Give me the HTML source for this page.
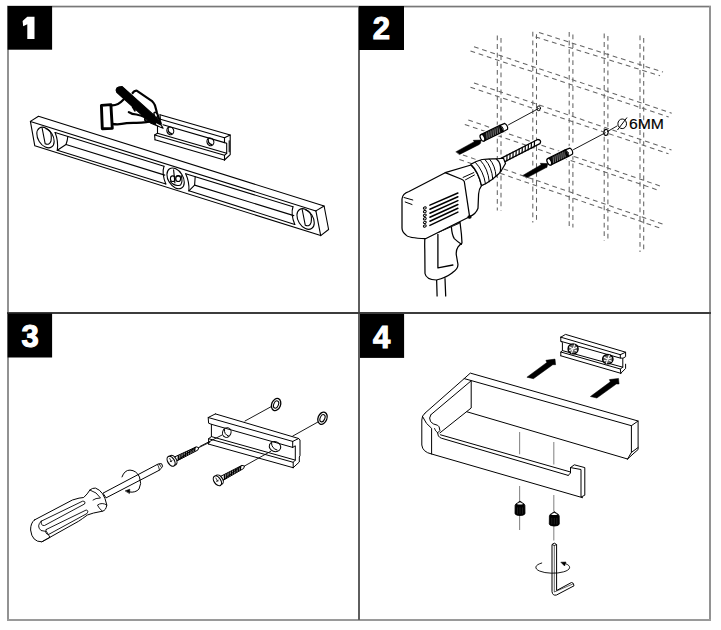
<!DOCTYPE html>
<html><head><meta charset="utf-8">
<style>
html,body{margin:0;padding:0;background:#fff;}
body{width:721px;height:630px;overflow:hidden;position:relative;font-family:"Liberation Sans",sans-serif;}
svg{position:absolute;left:0;top:0;}
</style></head><body>
<svg width="721" height="630" viewBox="0 0 721 630">
<g stroke="none">
<rect x="7" y="5.7" width="704" height="1.7" fill="#787878"/>
<rect x="7" y="6" width="2" height="615" fill="#929292"/>
<rect x="709" y="6" width="2" height="615" fill="#929292"/>
<rect x="7" y="619" width="704" height="2" fill="#9a9a9a"/>
<rect x="358" y="6" width="2" height="614" fill="#5e5e5e"/>
<rect x="7" y="312" width="704" height="2" fill="#3c3c3c"/>
</g>
<g fill="#000"><rect x="7.6" y="6" width="44.5" height="43.7"/><rect x="359" y="6" width="45" height="44"/><rect x="7.6" y="313.5" width="44.5" height="44"/><rect x="360" y="314" width="44.1" height="43.9"/></g>
<path d="M27.3,16.8 L34.5,16.8 L34.5,39.1 L27.3,39.1 L27.3,24.3 L23.2,26.3 L22.6,20.9 Z" fill="#fff"/>
<g fill="#fff" stroke="#fff" stroke-width="1.1" font-family="Liberation Sans" font-weight="bold" font-size="31" text-anchor="middle">
<text x="381.4" y="38.8">2</text><text x="30" y="346.6">3</text><text x="381.5" y="347.7">4</text></g>
<!-- p1.py -->
<g fill="none" stroke="#000" stroke-width="1.1" stroke-linejoin="round" stroke-linecap="round">
<polygon points="30.4,121.4 38.5,116.3 324.1,206 328.6,229.5 320.7,235.6 34.8,145.8" />
<line x1="30.4" y1="121.4" x2="315.9" y2="210.9" />
<polyline points="315.9,210.9 324.1,206" />
<line x1="315.9" y1="210.9" x2="320.7" y2="235.6" />
<line x1="55.1" y1="132.5" x2="164" y2="166.3" />
<line x1="66" y1="144.5" x2="164.8" y2="175.1" />
<line x1="57.3" y1="150.3" x2="165.8" y2="184" />
<path d="M55.1,132.5 Q58.5,141 57.3,150.3" />
<path d="M67.8,136.6 Q67.5,140.5 66,144.5 L57.3,150.3" />
<path d="M164,166.3 Q161.5,173.5 165.8,184" />
<line x1="185.7" y1="173.7" x2="293" y2="206.7" />
<line x1="194.6" y1="185.1" x2="293.8" y2="215.6" />
<line x1="188.9" y1="190.8" x2="294.8" y2="224.5" />
<path d="M185.7,173.7 Q189.5,182 188.9,190.8" />
<path d="M195.2,176.8 L194.6,185.1 L188.9,190.8" />
<path d="M293,206.7 Q290.5,213.9 294.8,224.5" />
<ellipse cx="45.5" cy="137.5" rx="7.4" ry="11.3" transform="rotate(-32 45.5 137.5)" />
<ellipse cx="175.6" cy="178.4" rx="7.4" ry="11.3" transform="rotate(-32 175.6 178.4)" />
<ellipse cx="305.6" cy="219" rx="7.4" ry="11.3" transform="rotate(-32 305.6 219)" />
<path d="M42.1,128 L45.2,143.8 Q49.5,145.5 51,141 Q52,134.5 50,131.5 Q46.5,128.2 45.8,128.7" />
<path d="M302.2,209.5 L305.3,225.3 Q309.6,227 311.1,222.5 Q312.1,216 310.1,213 Q306.6,209.7 305.9,210.2" />
<path d="M173.6,169.9 L174.9,182.9" />
<path d="M170.1,181.4 Q174.6,186.9 180.6,184.9 Q183.1,181.4 181.1,175.4" />
<ellipse cx="172.8" cy="178.7" rx="2.4" ry="2.8" transform="rotate(0 172.8 178.7)" />
<ellipse cx="178.2" cy="178.7" rx="2.4" ry="2.8" transform="rotate(0 178.2 178.7)" />
<path d="M176.1,176.4 Q178.1,174.9 180.1,176.4" />
<line x1="160" y1="114.7" x2="230.2" y2="135" />
<line x1="160.4" y1="119.2" x2="224.5" y2="137.8" />
<line x1="163" y1="124.7" x2="224.5" y2="142.6" />
<line x1="157.5" y1="133.2" x2="226.7" y2="153.3" />
<line x1="154.6" y1="135" x2="224.5" y2="155.3" />
<line x1="155" y1="139.8" x2="224.5" y2="160" />
<polyline points="160.4,119.2 160,114.7" />
<polyline points="157.5,123.6 157.5,133.2 154.6,135 155,139.8" />
<polyline points="224.5,137.8 230.2,135 230.2,154.6 224.5,160" />
<polyline points="224.5,137.8 224.5,142.6 226.7,143.2 226.7,153.3 224.5,155.3 224.5,160" />
<polyline points="229.2,140.7 229.2,151.7" />
<ellipse cx="170.3" cy="130.8" rx="3.4" ry="3.9" transform="rotate(-20 170.3 130.8)" />
<path d="M168.3,128.5 Q167.5,132.5 171.5,133.6" />
<ellipse cx="210.4" cy="141.8" rx="3.4" ry="3.9" transform="rotate(-20 210.4 141.8)" />
<path d="M208.4,139.5 Q207.7,143.5 211.7,144.6" />
</g>
<g fill="none" stroke="#000" stroke-width="2.2" stroke-linejoin="round" stroke-linecap="round">
<polygon points="101.4,105.4 110.9,104.6 112.3,128.4 102.3,128.8" stroke-width="2.9"/>
<path d="M112.1,105.4 Q118,105.5 123.6,99.5" />
<path d="M132.6,93 Q134.5,90.3 137,90.8 L151.7,100.8 Q154,103 155,105.5 L157,113 L160.8,123.6" />
<path d="M128.8,112.2 Q132,114.5 136.4,114.5 Q141,115.5 144.5,117" />
<path d="M146,116.5 Q142.8,120.5 147.9,121.8 Q150.5,121.8 152,119.5" stroke-width="1.9"/>
<path d="M112.3,123.8 Q118,125 126.7,123.2 Q132,122.6 136.4,122.9 Q142,122.8 146.3,122.1 L152.4,120.8" />
<path d="M132.6,106.9 L134.9,110.7" stroke-width="1.8"/>
</g>
<path d="M116.8,92.4 Q114.5,86.5 122.2,86.6 L156.5,117.4 L163.1,128.2 L151,123.2 Z" fill="#000" stroke="#000" stroke-width="1.2" stroke-linejoin="round"/>
<path d="M156.5,124 L160.8,126.3" stroke="#fff" stroke-width="1.2" stroke-linecap="round"/>
<ellipse cx="155.8" cy="114.8" rx="1.5" ry="2.7" transform="rotate(-25 155.8 114.8)" fill="#fff" stroke="#000" stroke-width="1.4"/>
<!-- p2.py -->
<g fill="none" stroke="#646464" stroke-width="1.05" stroke-dasharray="4.8 3.8">
<line x1="497.3" y1="35.5" x2="497.3" y2="210.5" />
<line x1="501" y1="38" x2="501" y2="210.5" />
<line x1="532.8" y1="31.8" x2="532.8" y2="222.5" />
<line x1="536.5" y1="34.3" x2="536.5" y2="222.5" />
<line x1="569.2" y1="32" x2="569.2" y2="227.5" />
<line x1="572.9" y1="34.5" x2="572.9" y2="227.5" />
<line x1="604.2" y1="33.5" x2="604.2" y2="240.5" />
<line x1="607.9" y1="36" x2="607.9" y2="240.5" />
<line x1="640" y1="35.5" x2="640" y2="252" />
<line x1="643.7" y1="38" x2="643.7" y2="252" />
<line x1="539" y1="32.5" x2="663" y2="72" />
<line x1="535.5" y1="36.9" x2="660" y2="75.8" />
<line x1="474" y1="46.7" x2="671.7" y2="113.2" />
<line x1="470.5" y1="51.1" x2="668.7" y2="117" />
<line x1="474" y1="82.9" x2="671.5" y2="150" />
<line x1="470.5" y1="87.3" x2="668.5" y2="153.8" />
<line x1="468.3" y1="120" x2="663" y2="187" />
<line x1="464.8" y1="124.4" x2="660" y2="190.8" />
<line x1="462.9" y1="155" x2="662.5" y2="224" />
<line x1="459.4" y1="159.4" x2="659.5" y2="227.8" />
</g>
<g stroke-linecap="round" stroke-linejoin="round">
<ellipse cx="538.7" cy="108.3" rx="1.7" ry="2.4" transform="rotate(10 538.7 108.3)" fill="#fff" stroke="#000" stroke-width="0.9"/>
<ellipse cx="606" cy="132.4" rx="2.1" ry="3" transform="rotate(10 606 132.4)" fill="#fff" stroke="#000" stroke-width="1.1"/>
<line x1="607.5" y1="131.5" x2="617" y2="126" stroke="#000" stroke-width="0.9"/>
<line x1="481.6" y1="138.2" x2="508.4" y2="125.2" stroke="#fff" stroke-width="10.7"/>
<path d="M503,131.8 L507.6,129.2 Q508.2,125.3 504.8,123.4 L499.9,125.4 Z" fill="#fff" stroke="#000" stroke-width="1.2"/>
<polygon points="484.1,141 503,131.8 499.9,125.4 480.9,134.6" fill="#111" stroke="#000" stroke-width="1.2"/>
<line x1="487.1" y1="138.3" x2="486.7" y2="132.9" stroke="#bbb" stroke-width="0.6"/>
<line x1="489.2" y1="137.3" x2="488.8" y2="131.9" stroke="#bbb" stroke-width="0.6"/>
<line x1="491.3" y1="136.3" x2="490.9" y2="130.9" stroke="#bbb" stroke-width="0.6"/>
<line x1="493.4" y1="135.3" x2="493" y2="129.9" stroke="#bbb" stroke-width="0.6"/>
<line x1="495.4" y1="134.3" x2="495" y2="128.9" stroke="#bbb" stroke-width="0.6"/>
<line x1="497.5" y1="133.3" x2="497.1" y2="127.9" stroke="#bbb" stroke-width="0.6"/>
<line x1="499.6" y1="132.3" x2="499.2" y2="126.9" stroke="#bbb" stroke-width="0.6"/>
<ellipse cx="482.5" cy="137.8" rx="2" ry="3.6" transform="rotate(-25.9 482.5 137.8)" fill="#fff" stroke="#000" stroke-width="1.3"/>
<ellipse cx="501.5" cy="128.6" rx="1.4" ry="3.4" transform="rotate(-25.9 501.5 128.6)" fill="none" stroke="#000" stroke-width="0.8"/>
<line x1="548.4" y1="162.2" x2="573.4" y2="149.9" stroke="#fff" stroke-width="10.7"/>
<path d="M568.4,156.4 L572.6,153.9 Q573.2,150 569.8,148.1 L565.2,149.9 Z" fill="#fff" stroke="#000" stroke-width="1.2"/>
<polygon points="550.9,165 568.4,156.4 565.2,149.9 547.7,158.6" fill="#111" stroke="#000" stroke-width="1.2"/>
<line x1="553.6" y1="162.5" x2="553.2" y2="157.1" stroke="#bbb" stroke-width="0.6"/>
<line x1="555.5" y1="161.5" x2="555.1" y2="156.1" stroke="#bbb" stroke-width="0.6"/>
<line x1="557.5" y1="160.6" x2="557" y2="155.2" stroke="#bbb" stroke-width="0.6"/>
<line x1="559.4" y1="159.6" x2="558.9" y2="154.2" stroke="#bbb" stroke-width="0.6"/>
<line x1="561.3" y1="158.7" x2="560.9" y2="153.3" stroke="#bbb" stroke-width="0.6"/>
<line x1="563.2" y1="157.8" x2="562.8" y2="152.3" stroke="#bbb" stroke-width="0.6"/>
<line x1="565.1" y1="156.8" x2="564.7" y2="151.4" stroke="#bbb" stroke-width="0.6"/>
<ellipse cx="549.3" cy="161.8" rx="2" ry="3.6" transform="rotate(-26.3 549.3 161.8)" fill="#fff" stroke="#000" stroke-width="1.3"/>
<ellipse cx="566.8" cy="153.2" rx="1.4" ry="3.4" transform="rotate(-26.3 566.8 153.2)" fill="none" stroke="#000" stroke-width="0.8"/>
<line x1="508.5" y1="124.8" x2="538.5" y2="108.6" stroke="#000" stroke-width="0.9"/>
<line x1="573.5" y1="149.6" x2="605.3" y2="132.8" stroke="#000" stroke-width="0.9"/>
<polygon points="456.1,151.7 474.2,141.7 473.3,140.3 481.1,140 480.6,143.3 478.9,144.7 459.7,154.4" fill="#000" stroke="#000" stroke-width="0.5"/>
<polygon points="523.1,175.3 541.1,164.7 540.3,163.3 547.8,163.6 546.9,167.5 545.8,167.8 526.9,177.8" fill="#000" stroke="#000" stroke-width="0.5"/>
</g>
<ellipse cx="622.2" cy="123.8" rx="4.3" ry="4.8" transform="rotate(0 622.2 123.8)" fill="none" stroke="#000" stroke-width="1"/>
<line x1="617.5" y1="130" x2="627" y2="117.5" stroke="#000" stroke-width="1"/>
<text x="629" y="128.8" font-family="Liberation Sans" font-size="14" fill="#000" stroke="#000" stroke-width="0.15" textLength="35" lengthAdjust="spacingAndGlyphs">6MM</text>
<!-- p2b.py -->
<g fill="#fff" stroke="#000" stroke-width="1.25" stroke-linejoin="round" stroke-linecap="round">
<path d="M436.6,279 L437.1,296 M445,278.6 L445.7,296" fill="none"/>
<path d="M425,236 Q424.5,242 424.8,250 L425,273.5 Q426,279.5 436.4,280 Q446,277.5 452.1,272.9 Q458.5,269 457.9,264 Q457,259 456.5,256 Q455.5,251 457.9,247.1 Q460,244.5 462,243 L461.4,234 L460,222 Z" />
<path d="M437.9,234.3 L437.9,267.9 L452.9,265" fill="none" stroke-width="1.3"/>
<path d="M451.4,227.1 Q452,235 454.3,238.6 Q458,242 461.4,244.3" fill="none"/>
<path d="M438,232.5 L459.5,223.2" fill="none" stroke-width="0.9"/>
<path d="M503.6,162.3 L539.9,143.7 Q541.9,140 537.7,139.5 L501.4,158.1 Z" fill="#fff" stroke-width="1.3"/>
<path d="M506.8,160.7 Q507.1,157.8 506.9,155.2" fill="none" stroke-width="1.2"/>
<path d="M509.8,159.1 Q510.2,156.3 510,153.7" fill="none" stroke-width="1.2"/>
<path d="M512.9,157.6 Q513.2,154.7 513,152.1" fill="none" stroke-width="1.2"/>
<path d="M515.9,156 Q516.3,153.1 516.1,150.6" fill="none" stroke-width="1.2"/>
<path d="M519,154.4 Q519.3,151.6 519.1,149" fill="none" stroke-width="1.2"/>
<path d="M522,152.9 Q522.4,150 522.2,147.4" fill="none" stroke-width="1.2"/>
<path d="M525.1,151.3 Q525.4,148.5 525.2,145.9" fill="none" stroke-width="1.2"/>
<path d="M528.1,149.8 Q528.5,146.9 528.3,144.3" fill="none" stroke-width="1.2"/>
<path d="M531.2,148.2 Q531.5,145.3 531.3,142.7" fill="none" stroke-width="1.2"/>
<path d="M534.2,146.6 Q534.6,143.8 534.4,141.2" fill="none" stroke-width="1.2"/>
<path d="M402,199 Q402.5,193.5 409,191.5 L445.2,172.7 L471,165 Q478.5,172 481.5,185.7 Q479,189 478.6,194 L478,208.3 Q476,214 469.6,216.7 L425.5,238.7 Q408,238 406,235 Q402,232 402,228 Z" />
<path d="M445.2,172.7 L461,179 Q463.5,180 464.3,181.5 L469.6,216.7" fill="none"/>
<path d="M463.1,177.4 L473.8,172.6 M465.5,179.8 L474.4,175" fill="none" stroke-width="1"/>
<path d="M496,159 L503.5,158.2 L505.5,163.5 L500.5,172 Z" />
<path d="M470.8,164.3 Q476,161 482.1,159.5 Q490,158.5 496.4,158.9 Q501.5,163 500.5,171 Q499.5,173 498.8,173.8 Q494,178 491.7,179.8 Q486,184 481.5,185.7 Q478.5,172 470.8,164.3 Z" />
<path d="M475.5,162.5 Q483.5,171 485.5,183.8 M480.5,160.5 Q488,168.5 489.3,181.8 M485,159.6 Q492,167 492.8,179.3 M489.5,159 Q495.5,166 496,176.5" fill="none" stroke-width="1"/>
<path d="M404,197.5 L412.8,200 M405.2,202 L412,204.5" fill="none" stroke-width="1"/>
<line x1="429.9" y1="205.1" x2="457.9" y2="193" stroke-width="1.5"/>
<line x1="429.9" y1="209.2" x2="457.9" y2="196.8" stroke-width="1.5"/>
<line x1="429.9" y1="213.2" x2="457.9" y2="200.6" stroke-width="1.5"/>
<line x1="429.9" y1="217.3" x2="457.9" y2="204.5" stroke-width="1.5"/>
<line x1="429.9" y1="221.3" x2="457.9" y2="208.3" stroke-width="1.5"/>
<line x1="429.9" y1="225.4" x2="457.9" y2="212.1" stroke-width="1.5"/>
<ellipse cx="424.8" cy="208" rx="1.5" ry="1.1" transform="rotate(-20 424.8 208)" fill="none" stroke-width="1"/>
<ellipse cx="424.8" cy="211.6" rx="1.5" ry="1.1" transform="rotate(-20 424.8 211.6)" fill="none" stroke-width="1"/>
<ellipse cx="424.8" cy="215.2" rx="1.5" ry="1.1" transform="rotate(-20 424.8 215.2)" fill="none" stroke-width="1"/>
<ellipse cx="424.8" cy="218.8" rx="1.5" ry="1.1" transform="rotate(-20 424.8 218.8)" fill="none" stroke-width="1"/>
<ellipse cx="424.8" cy="222.4" rx="1.5" ry="1.1" transform="rotate(-20 424.8 222.4)" fill="none" stroke-width="1"/>
<ellipse cx="424.8" cy="226" rx="1.5" ry="1.1" transform="rotate(-20 424.8 226)" fill="none" stroke-width="1"/>
<ellipse cx="469.5" cy="217" rx="1.5" ry="1.2" transform="rotate(0 469.5 217)" fill="#000"/>
</g>
<!-- p3.py -->
<g fill="none" stroke="#000" stroke-width="1" stroke-linejoin="round" stroke-linecap="round">
<line x1="245" y1="421" x2="270.7" y2="406.9" stroke-width="0.9"/>
<line x1="292.7" y1="436.1" x2="318.3" y2="421.8" stroke-width="0.9"/>
<line x1="200" y1="446.4" x2="222.1" y2="435" stroke-width="0.9"/>
<line x1="244.5" y1="466" x2="270.9" y2="451.2" stroke-width="0.9"/>
<line x1="198.8" y1="447.6" x2="210" y2="442.1" stroke-width="0.9"/>
<ellipse cx="276.1" cy="404.5" rx="4.4" ry="6.3" transform="rotate(22 276.1 404.5)" fill="#fff" stroke-width="1.3"/>
<ellipse cx="276.1" cy="404.5" rx="2.3" ry="3.8" transform="rotate(22 276.1 404.5)" stroke-width="1.1"/>
<ellipse cx="322.5" cy="418.2" rx="4.4" ry="6.3" transform="rotate(22 322.5 418.2)" fill="#fff" stroke-width="1.3"/>
<ellipse cx="322.5" cy="418.2" rx="2.3" ry="3.8" transform="rotate(22 322.5 418.2)" stroke-width="1.1"/>
<polyline points="215.4,413.9 298.7,438.5 300,440 300,455.7 299.3,457 299.3,462 293.2,467.7" />
<polyline points="215.4,413.9 208.2,417.5 208.6,423.2 211.4,424.3 211.4,436.6 208.6,438.7 208.6,444.1" />
<line x1="208.2" y1="417.5" x2="292.7" y2="441.4" />
<polyline points="292.7,441.4 298.7,438.5" />
<polyline points="292.7,441.4 292.7,447.4" />
<line x1="211.4" y1="424.3" x2="292.7" y2="447.4" />
<polyline points="292.7,447.4 295.3,445.8 295.3,460.1 293.2,462.3 293.2,467.7" />
<line x1="211.4" y1="436.6" x2="295.3" y2="460.1" />
<line x1="208.6" y1="438.7" x2="293.2" y2="462.3" />
<line x1="208.6" y1="444.1" x2="293.2" y2="467.7" />
<ellipse cx="226.8" cy="432.5" rx="4.2" ry="4.9" transform="rotate(20 226.8 432.5)" />
<path d="M224.5,429.5 Q223.8,434.5 228.5,436" />
<ellipse cx="275" cy="446.6" rx="5.8" ry="5" transform="rotate(20 275 446.6)" />
<path d="M271.5,443 Q271.5,448.5 277,450" />
</g>
<path d="M176.2,461.3 L197.8,450.1 L198.8,447.6 L196.2,446.9 Z M174.1,457.2 L196.2,446.9" fill="#fff" stroke="#000" stroke-width="1"/>
<line x1="178.3" y1="460.1" x2="178.3" y2="455.2" stroke="#000" stroke-width="1.35"/>
<line x1="180.1" y1="459.2" x2="180.2" y2="454.4" stroke="#000" stroke-width="1.35"/>
<line x1="181.9" y1="458.2" x2="182" y2="453.5" stroke="#000" stroke-width="1.35"/>
<line x1="183.7" y1="457.3" x2="183.9" y2="452.7" stroke="#000" stroke-width="1.35"/>
<line x1="185.5" y1="456.3" x2="185.7" y2="451.9" stroke="#000" stroke-width="1.35"/>
<line x1="187.3" y1="455.3" x2="187.6" y2="451" stroke="#000" stroke-width="1.35"/>
<line x1="189.1" y1="454.4" x2="189.5" y2="450.2" stroke="#000" stroke-width="1.35"/>
<line x1="190.9" y1="453.4" x2="191.3" y2="449.3" stroke="#000" stroke-width="1.35"/>
<line x1="192.7" y1="452.5" x2="193.2" y2="448.5" stroke="#000" stroke-width="1.35"/>
<line x1="194.5" y1="451.5" x2="195" y2="447.7" stroke="#000" stroke-width="1.35"/>
<ellipse cx="173.1" cy="460.2" rx="3.2" ry="5.3" transform="rotate(-31.1 173.1 460.2)" fill="#fff" stroke="#000" stroke-width="1.1"/>
<ellipse cx="171.1" cy="461.2" rx="3.3" ry="5.5" transform="rotate(-31.1 171.1 461.2)" fill="#fff" stroke="#000" stroke-width="1.2"/>
<line x1="169.6" y1="458.1" x2="171.5" y2="462.1" stroke="#000" stroke-width="0.8"/>
<line x1="169.8" y1="461.9" x2="172.4" y2="460.5" stroke="#000" stroke-width="0.8"/>
<path d="M222.5,480.7 L243.6,468.5 L244.5,466 L241.9,465.4 Z M220.2,476.6 L241.9,465.4" fill="#fff" stroke="#000" stroke-width="1"/>
<line x1="224.5" y1="479.4" x2="224.4" y2="474.5" stroke="#000" stroke-width="1.35"/>
<line x1="226.3" y1="478.4" x2="226.2" y2="473.6" stroke="#000" stroke-width="1.35"/>
<line x1="228" y1="477.3" x2="228" y2="472.7" stroke="#000" stroke-width="1.35"/>
<line x1="229.8" y1="476.3" x2="229.8" y2="471.7" stroke="#000" stroke-width="1.35"/>
<line x1="231.6" y1="475.3" x2="231.6" y2="470.8" stroke="#000" stroke-width="1.35"/>
<line x1="233.3" y1="474.2" x2="233.5" y2="469.9" stroke="#000" stroke-width="1.35"/>
<line x1="235.1" y1="473.2" x2="235.3" y2="469" stroke="#000" stroke-width="1.35"/>
<line x1="236.8" y1="472.2" x2="237.1" y2="468.1" stroke="#000" stroke-width="1.35"/>
<line x1="238.6" y1="471.1" x2="238.9" y2="467.1" stroke="#000" stroke-width="1.35"/>
<line x1="240.3" y1="470.1" x2="240.7" y2="466.2" stroke="#000" stroke-width="1.35"/>
<ellipse cx="219.3" cy="479.7" rx="3.2" ry="5.3" transform="rotate(-33.6 219.3 479.7)" fill="#fff" stroke="#000" stroke-width="1.1"/>
<ellipse cx="217.4" cy="480.8" rx="3.3" ry="5.5" transform="rotate(-33.6 217.4 480.8)" fill="#fff" stroke="#000" stroke-width="1.2"/>
<line x1="215.7" y1="477.7" x2="217.9" y2="481.7" stroke="#000" stroke-width="0.8"/>
<line x1="216.1" y1="481.5" x2="218.7" y2="480.1" stroke="#000" stroke-width="0.8"/>
<g fill="#fff" stroke="#000" stroke-width="1" stroke-linejoin="round" stroke-linecap="round">
<path d="M103.3,493 L157.4,464.4 Q160,463.2 161.7,463.8 L162.6,466.4 Q161,468.5 159.5,470.1 L106.4,497.7 Z" />
<path d="M157.4,464.4 Q159,466.5 159.5,470.1 M159.2,464 L161,466.8" fill="none" stroke-width="0.8"/>
<path d="M34.4,520 L72.4,500 Q80,497.5 83.7,497.5 Q87.5,494 89.9,490 Q92.5,487.8 95.5,488.1 Q104,491 106.8,505 Q106,510.5 102.4,511.2 Q92,513 87.4,515 Q82,519 78.7,521.2 L41.9,541.8 Q32,542 30.6,530 Q30.5,523 34.4,520 Z" />
<path d="M41.2,521.2 Q36,526 41,530.5 L46.5,531.5 L50,537.4 Q45,540 41.9,541.8" fill="none" stroke-width="0.9"/>
<path d="M41.2,521.2 L82.5,501.2 Q86,501 84.5,504 L44.5,525.5 Q40.5,526 41.2,521.2 M46.2,529.5 L86.2,510 Q89,510.5 87,513.5 L48.5,534.5 Q44.5,534 46.2,529.5" fill="none" stroke-width="0.9"/>
<path d="M89.9,490 Q97,492 100.5,498 Q95.5,498 93,500 M106.8,505 Q102,502 97.5,505 Q98,507.5 102.4,511.2" fill="none" stroke-width="0.9"/>
<path d="M122,476.9 Q124.5,470 130,470.1 Q136.5,470.5 139.5,477 Q142,484 139,489 Q135.5,493 129.5,492" fill="none" stroke-width="1"/>
<polygon points="125.5,490.8 129.8,489.2 129.5,493.2" fill="#000" stroke-width="0.6"/>
</g>
<!-- p4.py -->
<g fill="none" stroke="#000" stroke-width="1" stroke-linejoin="round" stroke-linecap="round">
<polyline points="424.8,413.3 464.2,378.6 470.3,373.1 638.1,421 638.1,449.5 633,454 627.6,459" />
<polyline points="464.2,378.6 631.4,425.7 638.1,421" />
<line x1="430.8" y1="414.8" x2="470.8" y2="381.1" />
<polyline points="631.4,425.7 631.4,452.4 627.6,459" />
<polyline points="631.4,452.4 638.1,447.5" />
<line x1="467" y1="411.8" x2="627.6" y2="459" />
<polyline points="471.2,381.1 471.2,408 439.9,432.9" />
<path d="M424.8,413.3 Q421.8,415.5 421.8,420 L421.8,445 Q422.5,452 431.6,454 L582.6,497.7" />
<path d="M430.8,414.8 Q428.5,418 430.5,421.5 Q432.5,424.3 437.6,425.3 L439.1,426.8 L439.9,430.6 L437.6,432.9 L438.4,435.9 Q439.5,437.6 441.4,438.2 L568.2,475.4" />
<path d="M422.5,416.5 Q426,424.5 431.6,428.3 L431.6,454" />
<path d="M437.8,433 Q435,431 434.5,428.5" stroke-width="0.9"/>
<line x1="440.5" y1="434.8" x2="570.5" y2="472" />
<polyline points="568.2,475.4 570.5,473 570.5,467.6 574.3,464.8 584.8,467.6 584.8,495.2 581,497.1 581,469.5 570.5,467.6" />
</g>
<g stroke="#8a8a8a" stroke-width="1.1">
<line x1="519.6" y1="431.9" x2="519.6" y2="454.3" />
<line x1="519.6" y1="485.9" x2="519.6" y2="501.7" />
<line x1="519.6" y1="514.8" x2="519.6" y2="530" />
<line x1="553.8" y1="442" x2="553.8" y2="464.4" />
<line x1="553.8" y1="495" x2="553.8" y2="511" />
<line x1="553.8" y1="524.3" x2="553.8" y2="540.5" />
</g>
<path d="M515.1,505.4 Q515.5,503.6 517.5,502.9 L520,501.1 L522.5,502.9 Q524.5,503.6 524.9,505.4 L525,513.4 Q524.9,515.4 520,515.6 Q515.1,515.4 515,513.4 L515.1,505.4 Z" fill="#000" stroke="#000" stroke-width="0.8"/>
<path d="M516.7,504 L520,502.2 L523.3,504 Q520,505.2 516.7,504 Z" fill="#fff" stroke="none"/>
<line x1="517.5" y1="507.4" x2="517.5" y2="513.9" stroke="#333" stroke-width="0.6"/>
<line x1="520" y1="507.4" x2="520" y2="513.9" stroke="#333" stroke-width="0.6"/>
<line x1="522.5" y1="507.4" x2="522.5" y2="513.9" stroke="#333" stroke-width="0.6"/>
<path d="M549.4,515.9 Q549.8,514.1 551.8,513.4 L554.3,511.6 L556.8,513.4 Q558.8,514.1 559.2,515.9 L559.3,523.9 Q559.2,525.9 554.3,526.1 Q549.4,525.9 549.3,523.9 L549.4,515.9 Z" fill="#000" stroke="#000" stroke-width="0.8"/>
<path d="M551,514.5 L554.3,512.7 L557.6,514.5 Q554.3,515.7 551,514.5 Z" fill="#fff" stroke="none"/>
<line x1="551.8" y1="517.9" x2="551.8" y2="524.4" stroke="#333" stroke-width="0.6"/>
<line x1="554.3" y1="517.9" x2="554.3" y2="524.4" stroke="#333" stroke-width="0.6"/>
<line x1="556.8" y1="517.9" x2="556.8" y2="524.4" stroke="#333" stroke-width="0.6"/>
<g fill="#fff" stroke="#000" stroke-width="1" stroke-linejoin="round">
<path d="M552,544.5 Q554.3,541.8 556.6,544.5 L556.6,590.5 L571.5,582.5 Q573.8,582.5 574,585.8 L556.5,595 Q552.5,596 552,591.5 Z" />
<path d="M554.3,545 L554.3,592 L572.8,584" fill="none" stroke-width="0.6"/>
<path d="M552,544.5 Q554.3,546.5 556.6,544.5" fill="none" stroke-width="0.8"/>
</g>
<path d="M542.1,562.9 A16.9,5.8 0 1 0 565.5,563.6" fill="none" stroke="#000" stroke-width="0.9"/>
<polygon points="560.8,562.2 566,562 564.6,566" fill="#000" stroke="#000" stroke-width="0.5"/>
<g fill="none" stroke="#000" stroke-width="1" stroke-linejoin="round" stroke-linecap="round">
<polyline points="560.8,337.2 565.5,334.4 625.6,352.2 625.6,356.7 623.2,358.1" />
<polyline points="560.8,337.2 560.8,341.3 562.4,342.5 562.4,350.6 560.8,352 560.8,355.8" />
<line x1="560.8" y1="337.2" x2="620.3" y2="354.7" />
<polyline points="620.3,354.7 625.6,352.2" />
<polyline points="620.3,354.7 620.3,358.1 622.8,358.1 622.8,367.2 620.3,369 620.8,373.3" />
<line x1="560.8" y1="341.3" x2="620.3" y2="358.1" />
<line x1="562.4" y1="350.6" x2="622.8" y2="367.2" />
<line x1="560.8" y1="352" x2="620.3" y2="369" />
<line x1="560.8" y1="355.8" x2="620.8" y2="373.3" />
<polyline points="625.6,364.2 625.6,368.5 620.8,373.3" />
<ellipse cx="573.1" cy="348.9" rx="5" ry="5" transform="rotate(0 573.1 348.9)" fill="#666" stroke-width="1.4"/>
<path d="M569.6,346.9 L576.6,350.9 M574.6,344.9 L571.6,352.9 M569.6,350.4 L576.6,347.4" stroke="#fff" stroke-width="1.1"/>
<ellipse cx="607.8" cy="359.2" rx="5.2" ry="4.7" transform="rotate(0 607.8 359.2)" fill="#666" stroke-width="1.4"/>
<path d="M604.3,357.2 L611.3,361.2 M609.3,355.2 L606.3,363.2 M604.3,360.7 L611.3,357.7" stroke="#fff" stroke-width="1.1"/>
</g>
<polygon points="526.9,377.2 546.8,362.5 545.9,360.3 555,359.1 555.6,364.7 552.8,364.7 533.4,378.7" fill="#000" stroke="#000" stroke-width="0.5"/>
<polygon points="590.4,396.5 610.3,381.8 609.4,379.6 618.5,378.4 619.1,384 616.3,384 596.9,398" fill="#000" stroke="#000" stroke-width="0.5"/>
</svg>
</body></html>
